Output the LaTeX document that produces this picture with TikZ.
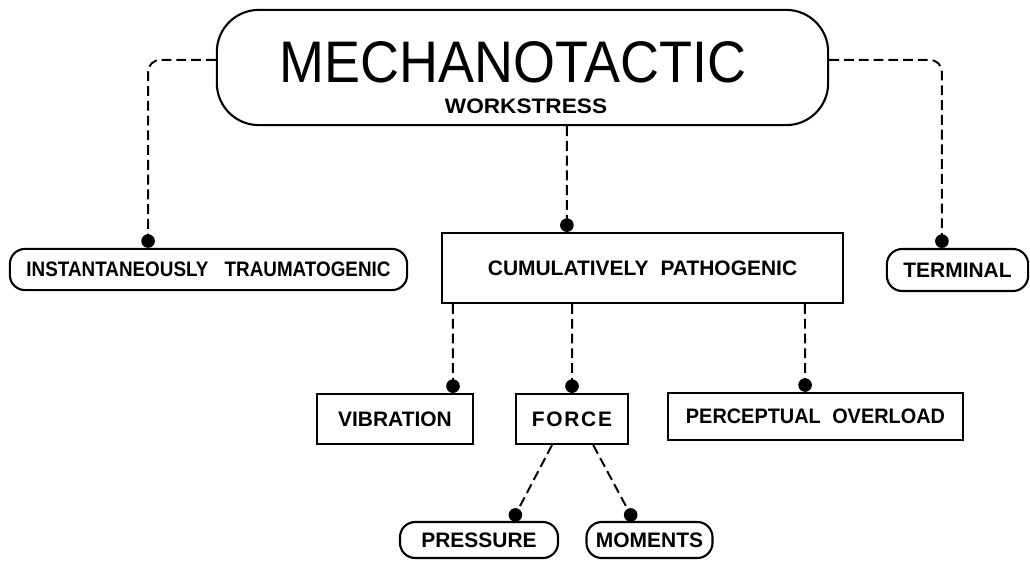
\documentclass[tikz,border=0pt]{standalone}
\usepackage{fontspec}
\setmainfont{Liberation Sans}
\usepackage{graphicx}
\usepackage{tikz}
\usetikzlibrary{arrows.meta}

\tikzset{
    pill/.style={rectangle, rounded corners=0.38cm, draw, line width=1.5pt, inner sep=0pt,
        font=\bfseries\fontsize{14.9}{16}\selectfont},
    box/.style={rectangle, draw, line width=1.5pt, inner sep=0pt,
        font=\bfseries\fontsize{14.9}{16}\selectfont},
    link/.style={line width=1.4pt, dash pattern=on 7pt off 3.5pt, rounded corners=0.3cm,
        -{Circle[length=0.34cm]}}
}

\begin{document}
\begin{tikzpicture}[x=0.025cm, y=-0.025cm]
    \useasboundingbox (0,0) rectangle (1030,560);

    % top of the tree
    \node[rectangle, rounded corners=1.05cm, draw, line width=1.5pt,
        minimum width=15.28cm, minimum height=2.88cm] (mech) at (522.5,67.5) {};
    \path (513,82) node[anchor=base, inner sep=0pt] (title)
        {\fontsize{41.7}{44}\selectfont\scalebox{0.92}[1]{MECHANOTACTIC}};
    \path (526,113) node[anchor=base, inner sep=0pt] (sub)
        {\bfseries\fontsize{14.9}{16}\selectfont\scalebox{1.08}[1]{WORKSTRESS}};

    % second row
    \node[pill, minimum width=9.93cm, minimum height=1.03cm] (inst) at (208.5,269.5)
        {\scalebox{0.9}[1]{INSTANTANEOUSLY\hspace{0.45cm}TRAUMATOGENIC}};
    \node[box, minimum width=10.03cm, minimum height=1.75cm] (cum) at (642.5,268)
        {CUMULATIVELY\hspace{0.3cm}PATHOGENIC};
    \node[pill, minimum width=3.53cm, minimum height=1.05cm] (term) at (957.5,270) {TERMINAL};

    % third row
    \node[box, minimum width=3.9cm, minimum height=1.25cm] (vib) at (395,419) {VIBRATION};
    \node[box, minimum width=2.8cm, minimum height=1.25cm] (force) at (572,419)
        {\addfontfeature{LetterSpace=8}FORCE};
    \node[box, minimum width=7.38cm, minimum height=1.18cm] (perc) at (815.5,416.5)
        {\scalebox{0.95}[1]{PERCEPTUAL\hspace{0.3cm}OVERLOAD}};

    % bottom row
    \node[pill, minimum width=3.95cm, minimum height=0.9cm] (press) at (479,540) {PRESSURE};
    \node[pill, minimum width=3.15cm, minimum height=0.9cm] (mom) at (649.5,540) {MOMENTS};

    % connectors
    \draw[link] ([yshift=0.19cm]mech.west) -| ([xshift=-1.51cm]inst.north);
    \draw[link] ([yshift=0.19cm]mech.east) -| ([xshift=-0.39cm]term.north);
    \draw[link] ([xshift=1.11cm]mech.south) -- ([xshift=-1.89cm]cum.north);

    \draw[link] ([xshift=-4.74cm]cum.south) -- ([xshift=1.45cm]vib.north);
    \draw[link] ([xshift=-1.76cm]cum.south) -- (force.north);
    \draw[link] ([xshift=4.06cm]cum.south) -- ([xshift=-0.26cm]perc.north);

    \draw[link] ([xshift=-0.5cm]force.south) -- ([xshift=0.83cm]press.north);
    \draw[link] ([xshift=0.53cm]force.south) -- ([xshift=-0.39cm]mom.north);
\end{tikzpicture}
\end{document}
